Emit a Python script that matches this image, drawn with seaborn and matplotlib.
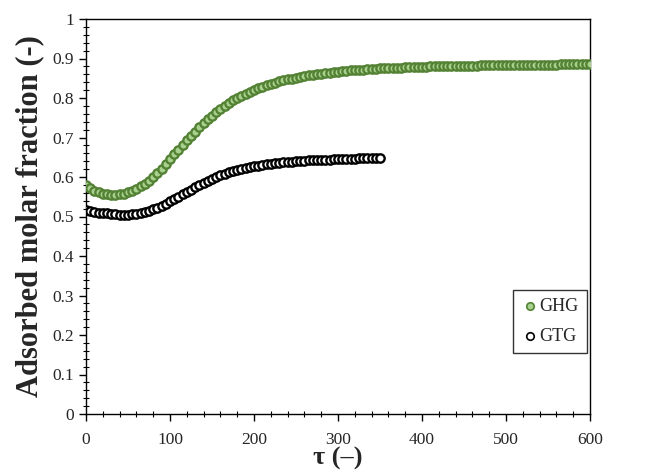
import numpy as np
import pandas as pd
import matplotlib
matplotlib.use("Agg")
import matplotlib.pyplot as plt
import seaborn as sns
from matplotlib.ticker import MultipleLocator

tau_ghg = np.arange(0, 605, 5)
ghg = [0.580, 0.571, 0.565, 0.561, 0.558, 0.556, 0.555, 0.555, 0.556, 0.558,
       0.561, 0.565, 0.570, 0.576, 0.583, 0.591, 0.600, 0.610, 0.621, 0.633,
       0.645, 0.657, 0.669, 0.681, 0.693, 0.704, 0.715, 0.726, 0.736, 0.746,
       0.755, 0.764, 0.772, 0.780, 0.787, 0.794, 0.800, 0.806, 0.811, 0.816,
       0.821, 0.825, 0.829, 0.833, 0.836, 0.839, 0.842, 0.845, 0.847, 0.849,
       0.851, 0.853, 0.855, 0.857, 0.859, 0.860, 0.862, 0.863, 0.864, 0.866,
       0.867, 0.868, 0.869, 0.870, 0.871, 0.871, 0.872, 0.873, 0.873, 0.874,
       0.875, 0.875, 0.876, 0.876, 0.877, 0.877, 0.878, 0.878, 0.878, 0.879,
       0.879, 0.879, 0.880, 0.880, 0.880, 0.881, 0.881, 0.881, 0.881, 0.882,
       0.882, 0.882, 0.882, 0.882, 0.883, 0.883, 0.883, 0.883, 0.883, 0.883,
       0.884, 0.884, 0.884, 0.884, 0.884, 0.884, 0.884, 0.884, 0.884, 0.884,
       0.884, 0.884, 0.884, 0.885, 0.885, 0.885, 0.885, 0.885, 0.885, 0.885,
       0.885]

tau_gtg = np.arange(0, 355, 5)
gtg = [0.516, 0.514, 0.512, 0.510, 0.509, 0.508, 0.507, 0.506, 0.505, 0.505,
       0.505, 0.506, 0.507, 0.509, 0.511, 0.514, 0.518, 0.522, 0.527, 0.532,
       0.538, 0.544, 0.550, 0.556, 0.562, 0.568, 0.574, 0.580, 0.585, 0.590,
       0.595, 0.600, 0.604, 0.608, 0.612, 0.615, 0.618, 0.621, 0.623, 0.625,
       0.627, 0.629, 0.631, 0.632, 0.634, 0.635, 0.636, 0.637, 0.638, 0.639,
       0.640, 0.641, 0.641, 0.642, 0.642, 0.643, 0.643, 0.644, 0.644, 0.645,
       0.645, 0.645, 0.646, 0.646, 0.646, 0.647, 0.647, 0.647, 0.647, 0.648,
       0.648]

sns.set_theme(style="ticks")
plt.rcParams['font.family'] = ['Liberation Serif', 'DejaVu Serif']

fig = plt.figure(figsize=(6.64, 4.71), dpi=100)
ax = fig.add_axes([86/664, 1-414/471, 504/664, 395/471])

df_ghg = pd.DataFrame({"tau": tau_ghg, "y": ghg})
df_gtg = pd.DataFrame({"tau": tau_gtg, "y": gtg})

sns.scatterplot(data=df_ghg, x="tau", y="y", ax=ax, marker="o", s=36,
                facecolor="#a9d18e", edgecolor="#548235", linewidth=1.7,
                label="GHG", zorder=3)
sns.scatterplot(data=df_gtg, x="tau", y="y", ax=ax, marker="o", s=36,
                facecolor="white", edgecolor="black", linewidth=1.7,
                label="GTG", zorder=3)

ax.set_xlim(0, 600)
ax.set_ylim(0, 1)
ax.xaxis.set_major_locator(MultipleLocator(100))
ax.xaxis.set_minor_locator(MultipleLocator(20))
ax.yaxis.set_minor_locator(MultipleLocator(0.02))
ax.set_yticks(np.arange(0, 1.01, 0.1))
ax.set_yticklabels(["0", "0.1", "0.2", "0.3", "0.4", "0.5", "0.6", "0.7", "0.8", "0.9", "1"])
ax.tick_params(which="major", direction="out", length=5, width=1, labelsize=12.5, color="black")
ax.tick_params(which="minor", direction="inout", length=4, width=0.8, color="black")
ax.tick_params(axis="x", pad=8)
for s in ax.spines.values():
    s.set_color("black")
    s.set_linewidth(1)
    s.set_visible(True)

ax.set_xlabel("τ (–)", fontsize=19, fontweight="bold", labelpad=-1)
ax.set_ylabel("Adsorbed molar fraction (-)", fontsize=22, fontweight="bold", labelpad=6)

leg = ax.legend(loc="upper left", bbox_to_anchor=((513-86)/504, (414-290)/395),
                borderaxespad=0, frameon=True, fancybox=False, edgecolor="black",
                fontsize=13, handletextpad=0.0, handlelength=1.0, borderpad=0.45,
                labelspacing=0.7, markerscale=0.9)
leg.get_frame().set_linewidth(1)
for h in leg.legend_handles:
    h.set_linewidth(1.2)

fig.savefig("out.png", dpi=100)
